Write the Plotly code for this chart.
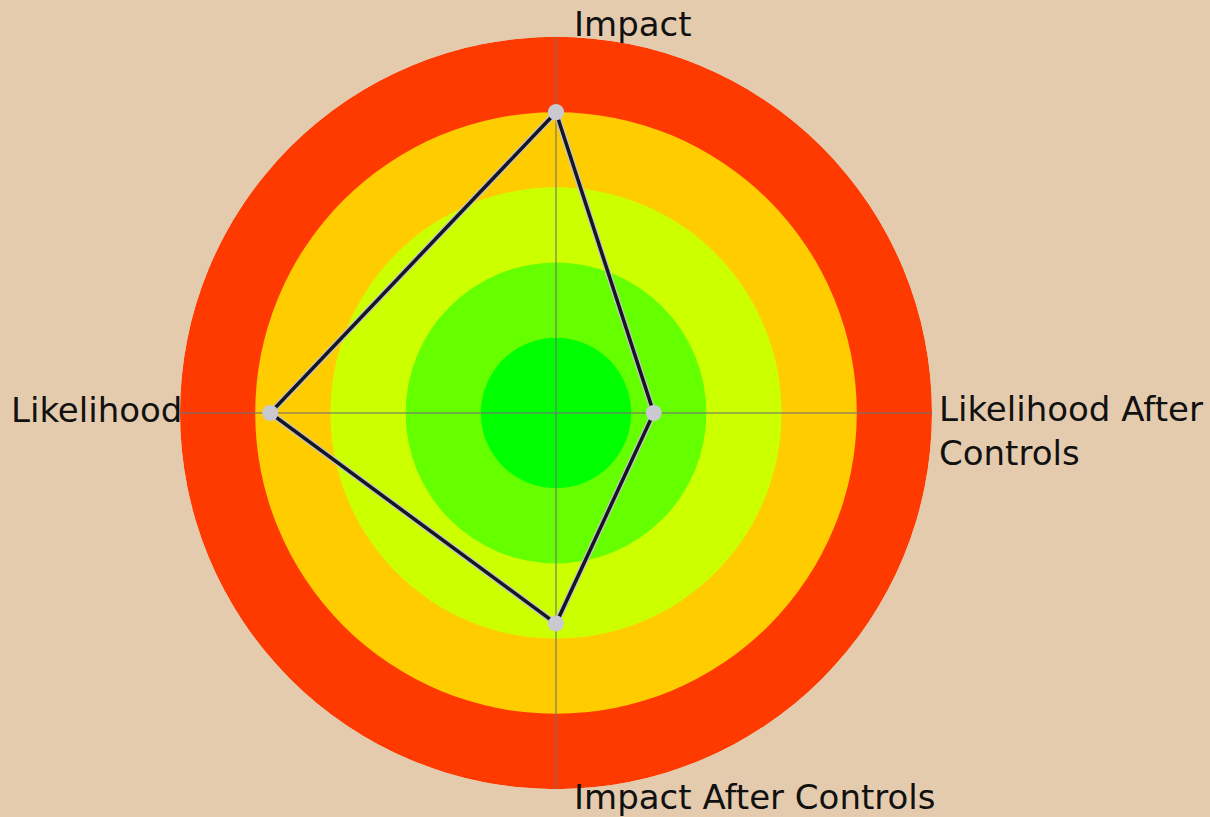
import plotly.graph_objects as go

# Risk axes, clockwise from the top
categories = ["Impact", "Likelihood After Controls", "Impact After Controls", "Likelihood"]
scores = [4.0, 1.3, 2.8, 3.8]

# Concentric risk bands (outer radius of each band) and their colours
band_limits = [5, 4, 3, 2, 1]
band_colors = ["#FF3A00", "#FFCC00", "#CCFF00", "#66FF00", "#00FF00"]

BG = "#E5CBAD"
W, H = 1210, 817

fig = go.Figure()

# Bands, largest first so smaller ones sit on top; one full-circle bar each
for limit, color in zip(band_limits, band_colors):
    fig.add_trace(go.Barpolar(
        r=[limit],
        theta=[categories[0]],
        width=[len(categories)],
        marker=dict(color=color, line=dict(width=0)),
        hoverinfo="skip",
        showlegend=False,
    ))

# Grey spokes along each axis, drawn over the bands
spoke_r, spoke_theta = [], []
for cat in categories:
    spoke_r += [0, band_limits[0], None]
    spoke_theta += [cat, cat, None]
fig.add_trace(go.Scatterpolar(
    r=spoke_r, theta=spoke_theta, mode="lines",
    line=dict(color="rgba(115,115,115,0.75)", width=1.5),
    connectgaps=False, hoverinfo="skip", showlegend=False,
))

closed_r = scores + scores[:1]
closed_theta = categories + categories[:1]

# Light halo under the outline
fig.add_trace(go.Scatterpolar(
    r=closed_r, theta=closed_theta, mode="lines",
    line=dict(color="#C4C4CA", width=6),
    hoverinfo="skip", showlegend=False,
))
fig.add_trace(go.Scatterpolar(
    r=closed_r, theta=closed_theta, mode="lines+markers",
    line=dict(color="#16161E", width=3.5),
    marker=dict(size=16, color="#C9C9CF"),
    showlegend=False,
))

# Polar area: centre at (556, 413) px, radius ~376 px
cx, cy, rad = 556, 413, 376
fig.update_layout(
    width=W, height=H,
    paper_bgcolor=BG, plot_bgcolor=BG,
    margin=dict(l=0, r=0, t=0, b=0),
    polar=dict(
        domain=dict(x=[(cx - rad) / W, (cx + rad) / W],
                    y=[(H - cy - rad) / H, (H - cy + rad) / H]),
        bgcolor=BG,
        barmode="overlay",
        bargap=0,
        radialaxis=dict(range=[0, 5], showticklabels=False, ticks="",
                        showgrid=False, showline=False),
        angularaxis=dict(direction="clockwise", rotation=90,
                         categoryorder="array", categoryarray=categories,
                         showticklabels=False, ticks="",
                         showgrid=False, showline=False),
    ),
)

font = dict(family="DejaVu Sans", size=34, color="#111111")
labels = [
    ("Impact", 572, 24, "left", "middle"),
    ("Likelihood", 184, 410, "right", "middle"),
    ("Likelihood After<br>Controls", 937, 431, "left", "middle"),
    ("Impact After Controls", 572, 797, "left", "middle"),
]
for text, px, py, xa, ya in labels:
    fig.add_annotation(text=text, x=px / W, y=1 - py / H, xref="paper", yref="paper",
                       xanchor=xa, yanchor=ya, align="left", showarrow=False, font=font)

fig.write_html(
    "out.html",
    config={"displayModeBar": False},
    post_script="document.body.style.margin='0';document.body.style.background='%s';" % BG,
)
